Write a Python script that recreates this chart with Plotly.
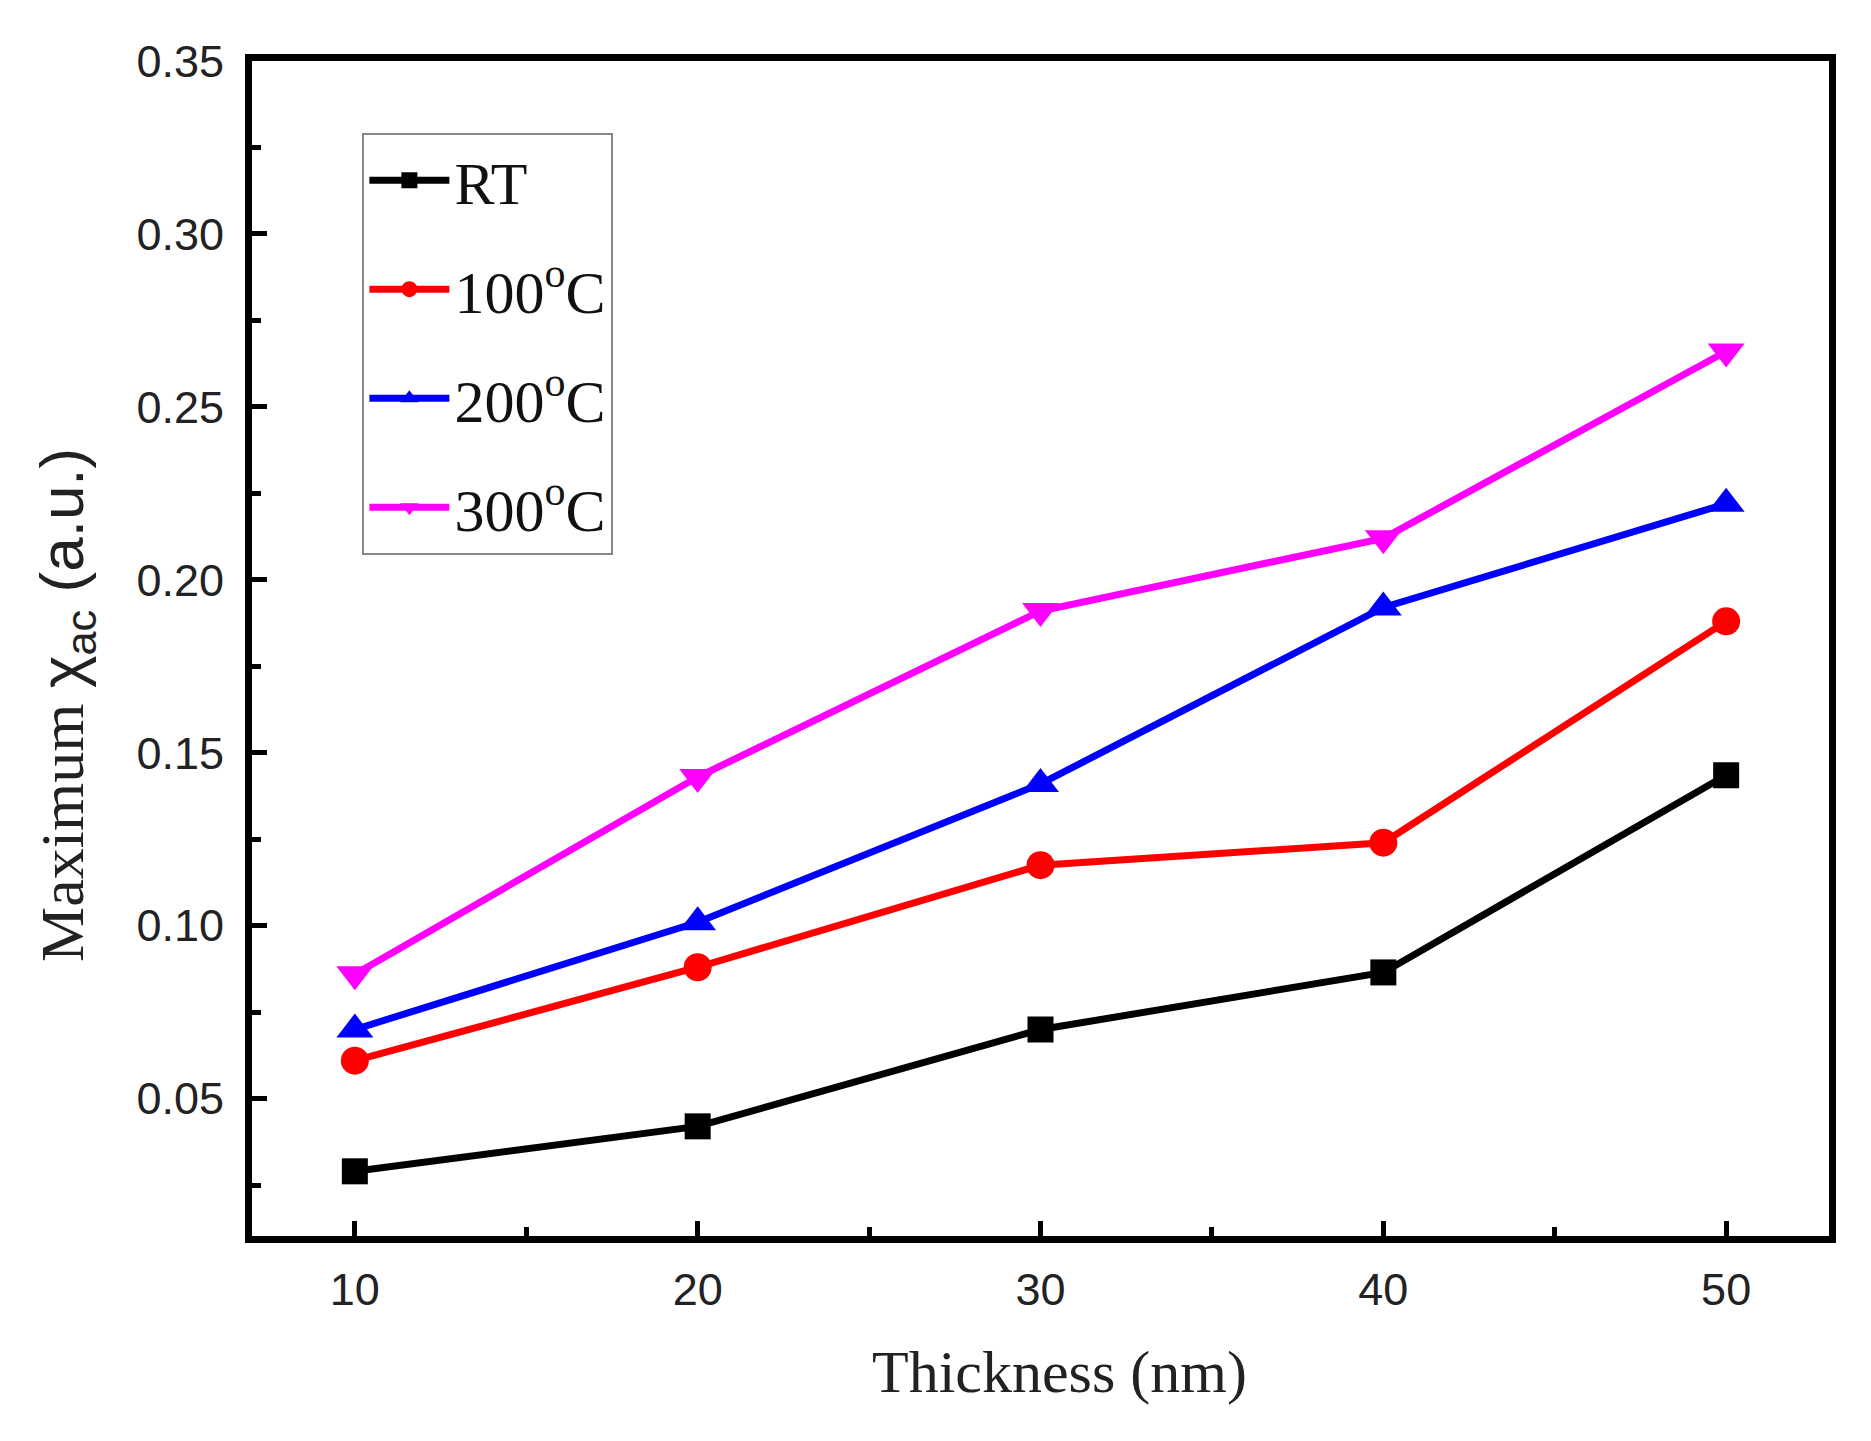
import plotly.graph_objects as go

thickness = [10, 20, 30, 40, 50]
rt = [0.029, 0.042, 0.070, 0.0865, 0.1435]
t100 = [0.061, 0.088, 0.1175, 0.124, 0.188]
t200 = [0.070, 0.101, 0.141, 0.192, 0.222]
t300 = [0.086, 0.143, 0.191, 0.212, 0.266]

series_names = ["RT", "100<sup>o</sup>C", "200<sup>o</sup>C", "300<sup>o</sup>C"]
series_values = [rt, t100, t200, t300]
colors = ["#000000", "#FF0000", "#0000FF", "#FF00FF"]
symbols = ["square", "circle", "triangle-up", "triangle-down"]
marker_sizes = [26, 28, 32, 32]

serif = "Liberation Serif, Times New Roman, serif"
sans = "Liberation Sans, Arial, sans-serif"

fig = go.Figure()
for i, (name, vals) in enumerate(zip(series_names, series_values)):
    fig.add_trace(go.Scatter(
        x=thickness, y=vals, name=name, mode="lines+markers",
        legendgroup=f"g{i}",
        line=dict(color=colors[i], width=7),
        marker=dict(symbol=symbols[i], size=marker_sizes[i], color=colors[i]),
    ))

axis_common = dict(
    showline=True, linecolor="black", linewidth=7, mirror=True,
    showgrid=False, zeroline=False,
    ticks="inside", ticklen=15, tickwidth=5, tickcolor="black",
    tickfont=dict(family=sans, size=45, color="#222222"),
)

fig.update_xaxes(
    range=[7, 53], tick0=10, dtick=10,
    minor=dict(ticks="inside", ticklen=9, tickwidth=5, tickcolor="black", dtick=5, tick0=10),
    ticklabelstandoff=8,
    **axis_common,
)
fig.update_yaxes(
    range=[0.0103, 0.35], tick0=0.05, dtick=0.05, tickformat=".2f",
    minor=dict(ticks="inside", ticklen=9, tickwidth=5, tickcolor="black", dtick=0.025, tick0=0.025),
    ticklabelstandoff=12,
    **axis_common,
)

# axis titles as annotations
fig.add_annotation(
    text="Thickness (nm)",
    xref="paper", yref="paper", x=0.5, y=0, xanchor="center", yanchor="middle",
    xshift=19, yshift=-136, showarrow=False,
    font=dict(family=serif, size=60, color="#222222"),
)
fig.add_annotation(
    text="Maximum <span style='font-family:Liberation Sans'>χ<sub>ac</sub> (a.u.)</span>",
    xref="paper", yref="paper", x=0, y=0.452, xanchor="center", yanchor="middle",
    xshift=-186, textangle=-90, showarrow=False,
    font=dict(family=serif, size=62, color="#222222"),
)

fig.update_layout(
    width=1871, height=1441,
    margin=dict(l=244, r=50, t=53, b=213),
    paper_bgcolor="white", plot_bgcolor="white",
    showlegend=True,
    legend=dict(
        x=0.07, y=0.939, xanchor="left", yanchor="top",
        bgcolor="white", bordercolor="#888888", borderwidth=2,
        font=dict(family=serif, size=60, color="#111111"),
        tracegroupgap=28, itemwidth=80,
    ),
)

fig.write_html("out.html")
